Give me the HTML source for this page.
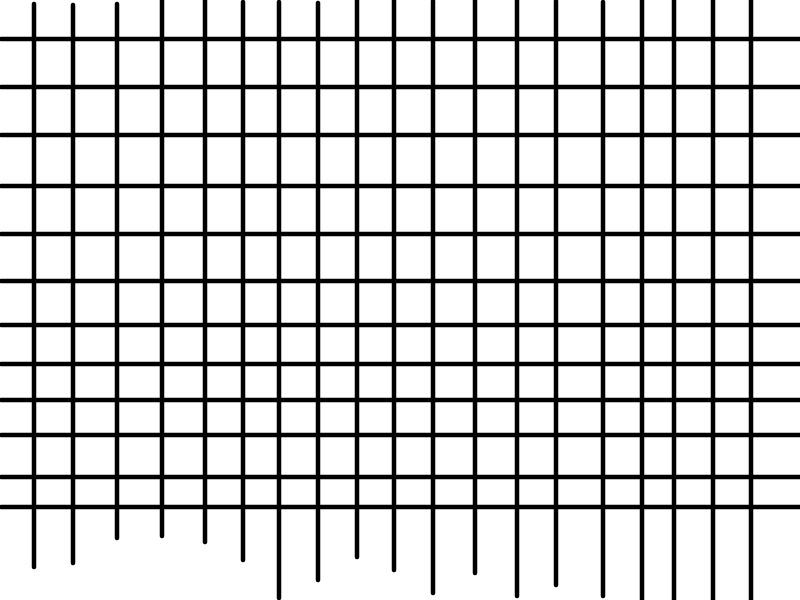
<!DOCTYPE html>
<html><head><meta charset="utf-8"><style>html,body{margin:0;padding:0;background:#fff;width:800px;height:600px;overflow:hidden}</style></head>
<body>
<svg id="chart" width="800" height="600" viewBox="0 0 800 600" xmlns="http://www.w3.org/2000/svg"></svg>
<script>
const hLineY = [39, 87, 135, 186, 234, 281, 325, 364, 400, 435, 477, 507];
const vLineX = [34, 73, 117, 162, 205, 243, 279, 318, 357, 394, 433, 475, 517, 556, 603, 642, 674, 713, 751];
const vLineTop = [4, 5, 4, 0, 0, 2, 2, 3, 0, 0, 1, 0, 0, 1, 2, 0, 0, 0, 0];
const vLineBottom = [567, 563, 538, 536, 542, 560, 598, 580, 557, 570, 593, 573, 596, 585, 596, 600, 600, 600, 600];
const svg = document.getElementById('chart');
const NS = 'http://www.w3.org/2000/svg';
hLineY.forEach((y, i) => {
  const l = document.createElementNS(NS, 'line');
  l.setAttribute('x1', 1); l.setAttribute('x2', 800);
  l.setAttribute('y1', y); l.setAttribute('y2', y);
  l.setAttribute('stroke', '#000'); l.setAttribute('stroke-width', 4.5); l.setAttribute('stroke-linecap', 'round');
  
  
  svg.appendChild(l);
});
vLineX.forEach((x, i) => {
  const l = document.createElementNS(NS, 'line');
  l.setAttribute('x1', x); l.setAttribute('x2', x);
  l.setAttribute('y1', vLineTop[i]); l.setAttribute('y2', vLineBottom[i]);
  l.setAttribute('stroke', '#000'); l.setAttribute('stroke-width', 4.5); l.setAttribute('stroke-linecap', 'round');
  
  
  svg.appendChild(l);
});
</script>
</body></html>
